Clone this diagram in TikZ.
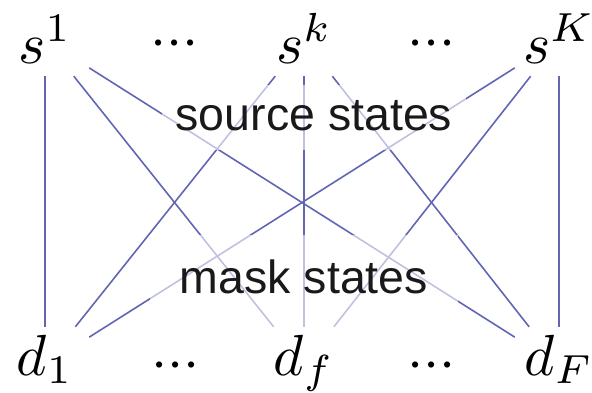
\documentclass[tikz,border=0pt]{standalone}
\usepackage{graphicx}
\usepackage{fontspec}
\newfontfamily\lsans{Liberation Sans}
\definecolor{edgeblue}{RGB}{98,102,178}
\definecolor{labelink}{RGB}{25,25,25}
\newcommand{\bigmath}[1]{\scalebox{5.8}{$#1$}}
\begin{document}
\begin{tikzpicture}[x=1pt,y=-1pt,
  statetop/.style={rectangle,inner sep=0pt,minimum width=88pt,minimum height=72pt,
    text height=50pt,text depth=4pt},
  statebot/.style={rectangle,inner sep=0pt,minimum width=88pt,minimum height=76pt,
    text height=40pt,text depth=20pt},
  dotsnode/.style={anchor=base,inner sep=0pt},
  edge/.style={draw=edgeblue,line width=1.6pt},
  veil/.style={anchor=base,fill=white,fill opacity=0.6,text opacity=1,text=labelink,
    font=\lsans\fontsize{46.5}{50}\selectfont,inner ysep=0pt}
]
\useasboundingbox (0,0) rectangle (592,392);
% state nodes
\node[statetop] (s1) at (45,40) {\bigmath{s^1}};
\node[statetop] (sk) at (304,40) {\bigmath{s^k}};
\node[statetop] (sK) at (559,40) {\bigmath{s^K}};
\node[statebot] (d1) at (45,365) {\bigmath{d_1}};
\node[statebot] (df) at (304,365) {\bigmath{d_f}};
\node[statebot] (dF) at (559,365) {\bigmath{d_F}};
% ellipses
\node[dotsnode] (t1) at (175,57) {\bigmath{{\cdotp}{\cdotp}{\cdotp}}};
\node[dotsnode] (t2) at (432,57) {\bigmath{{\cdotp}{\cdotp}{\cdotp}}};
\node[dotsnode] (b1) at (176,379) {\bigmath{{\cdotp}{\cdotp}{\cdotp}}};
\node[dotsnode] (b2) at (432,379) {\bigmath{{\cdotp}{\cdotp}{\cdotp}}};
% connectors
\foreach \a in {s1,sk,sK}{
  \foreach \b in {d1,df,dF}{
    \draw[edge] (\a) -- (\b);
  }
}
% labels with translucent backing
\node[veil,text height=45pt,text depth=20pt,inner xsep=14pt] (src) at (314,130) {source states};
\node[veil,text height=58pt,text depth=37pt,inner xsep=30pt] (msk) at (304,293) {mask states};
\end{tikzpicture}
\end{document}
